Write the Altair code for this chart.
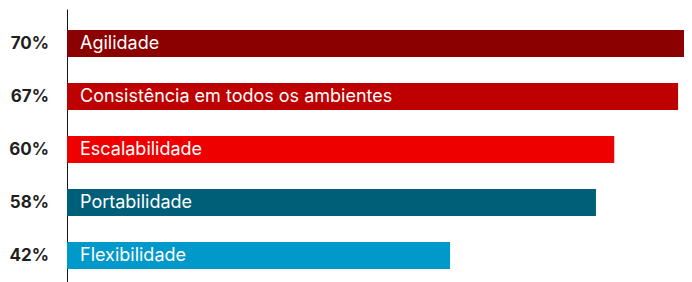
import altair as alt
import pandas as pd

categories = ["Agilidade", "Consistência em todos os ambientes", "Escalabilidade", "Portabilidade", "Flexibilidade"]
values = [70, 67, 60, 58, 42]
pct_labels = ["70%", "67%", "60%", "58%", "42%"]
colors = ["#8b0000", "#be0000", "#ee0000", "#005f78", "#0099c9"]

df = pd.DataFrame({"cat": categories, "val": values, "pct": pct_labels})

y = alt.Y("cat:N", sort=categories,
          scale=alt.Scale(paddingInner=0.49, paddingOuter=0.32, align=0.62),
          axis=alt.Axis(labels=False, ticks=False, title=None, grid=False,
                        domainColor="#151515", domainWidth=1))

base = alt.Chart(df)

bars = base.mark_bar(clip=True).encode(
    x=alt.X("val:Q", scale=alt.Scale(domain=[0, 67.65], nice=False, zero=True), axis=None),
    y=y,
    color=alt.Color("cat:N", scale=alt.Scale(domain=categories, range=colors), legend=None),
)

names = base.mark_text(align="left", baseline="middle", color="white",
                       font="Inter", fontSize=18, dy=0).encode(
    x=alt.value(13), y=alt.Y("cat:N", sort=categories), text="cat:N")

pcts = base.mark_text(align="right", baseline="middle", color="#1f1f1f",
                      font="Inter", fontSize=17, fontWeight="bold").encode(
    x=alt.value(-18), y=alt.Y("cat:N", sort=categories), text="pct:N")

chart = alt.layer(bars, names, pcts).properties(
    width=617, height=273,
    autosize=alt.AutoSizeParams(type="none"),
    padding={"left": 59, "top": 1, "right": 0, "bottom": 0},
).configure_view(stroke=None)

chart.save("out.html", embed_options={"renderer": "svg", "actions": False})
